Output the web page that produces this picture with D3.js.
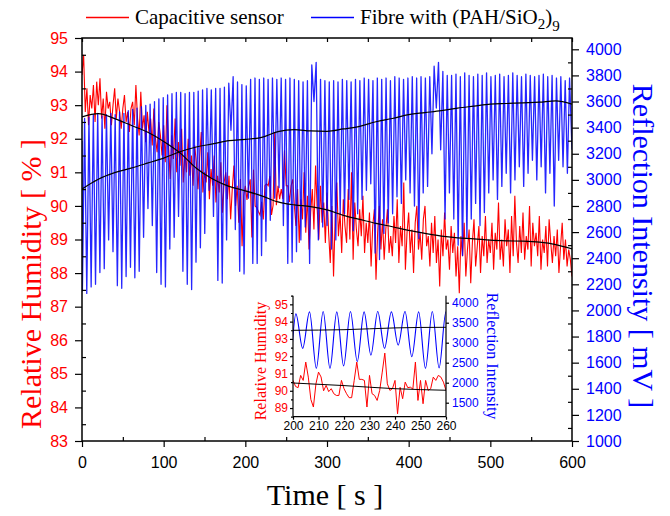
<!DOCTYPE html>
<html><head><meta charset="utf-8">
<script src="https://cdn.jsdelivr.net/npm/d3@7"></script>
<style>
body{margin:0;background:#fff}
.serif{font-family:"Liberation Serif","Times New Roman",Times,"DejaVu Serif",serif}
.sans{font-family:"Liberation Sans",Arial,Helvetica,sans-serif}
</style>
</head><body><svg id="c" width="670" height="516" xmlns="http://www.w3.org/2000/svg"></svg>
<script>
// ---------- DATA ----------
// Capacitive sensor (RH %), sampled every 2 s from 0 to 600 s
const redStep = 2;
const redValues = [
93.9,94.5,92.8,93.5,92.4,93.3,92.9,93.6,92.5,93.7,
93.0,93.8,92.6,93.2,92.3,93.4,92.9,93.1,92.4,93.0,
93.5,92.6,93.2,92.8,92.3,92.9,93.3,92.5,92.8,92.2,
92.9,93.1,92.4,93.6,92.6,92.1,93.4,92.3,92.7,91.9,
92.8,92.2,92.6,91.8,92.9,92.0,91.6,92.5,92.1,91.5,
92.4,91.3,93.0,91.8,90.8,92.1,91.4,92.6,91.0,91.9,
91.2,92.3,90.7,91.6,91.0,92.0,90.9,91.5,90.6,91.8,
91.3,90.5,91.4,92.2,90.4,91.0,90.7,91.6,90.2,91.1,
90.6,91.5,90.1,90.9,90.4,91.3,89.8,90.7,91.0,90.2,
90.9,89.6,90.5,91.2,90.0,90.6,89.5,90.8,88.8,90.3,
90.60,90.18,90.60,90.79,89.06,91.08,90.00,89.95,89.83,89.73,
90.12,89.60,90.60,90.66,90.60,90.89,89.73,90.02,92.18,90.02,
90.60,90.20,90.50,90.21,91.66,90.60,90.60,90.12,90.60,90.79,
90.02,89.4,90.5,88.9,90.2,89.6,91.0,89.2,90.3,88.7,
89.8,90.5,89.3,91.2,89.9,89.0,90.6,89.5,90.1,88.9,
90.4,89.2,88.3,90.0,87.9,89.6,90.7,89.1,89.8,88.6,
90.2,89.4,88.9,90.5,89.0,91.0,88.4,90.1,89.3,88.8,
89.9,89.1,90.3,88.6,89.5,88.9,89.8,88.2,89.4,89.9,
87.8,89.2,90.0,88.7,89.6,88.4,89.3,89.9,88.6,89.1,
88.5,89.7,88.9,90.2,88.3,89.4,88.8,90.7,88.1,89.2,
89.8,88.6,89.3,88.0,89.5,90.0,88.7,89.2,88.4,89.6,
90.0,88.8,89.1,88.2,89.5,88.6,89.7,88.3,89.0,87.6,
89.3,88.5,89.8,88.7,89.0,88.1,89.4,88.6,89.2,87.9,
88.8,87.4,89.1,88.5,89.5,87.9,88.7,89.3,87.7,88.9,
89.6,88.2,88.8,89.4,88.0,89.1,88.5,89.7,88.3,89.0,
88.6,89.5,88.1,89.2,88.7,90.1,88.4,89.0,88.2,89.6,
88.8,89.3,88.0,89.7,88.5,90.3,88.9,88.3,89.4,88.6,
89.8,88.4,89.1,88.7,90.0,88.2,89.5,88.8,89.2,88.5,
89.7,88.1,89.0,88.6,89.4,88.2,89.6,88.9,88.3,89.1,
88.5,89.3,88.0,88.8,89.5,88.4,89.0,88.2,88.7,88.4,
87.9];

// Fibre (PAH/SiO2)9 reflection intensity (mV): one trough and one peak per cycle
const blueFirstTrough = 0.5, bluePeriod = 5.35;
const blueStart = 3300, blueEnd = 3230;
const blueTroughs = [
2150,
2130,2180,2200,2290,2320,2540,2450,2190,2170,2260,2330,
2250,2300,2560,2780,2650,2290,2200,2180,2470,2560,2720,2300,2200,
2160,2370,2480,2590,2920,2720,2230,2210,2540,3380,2620,2300,2280,
2860,2360,2360,2420,2530,2690,2860,2940,2650,2360,2370,
2450,2540,2640,2360,3600,2540,2640,2650,
2470,2540,2740,2740,2850,2610,2740,2850,2920,2970,2440,2390,2590,2670,2740,2870,2820,3000,2900,2800,2550,2900,2950,3200,3550,3230,2700,
2900,2700,2500,2420,2560,2700,2820,2650,2750,2900,3000,2850,2950,3050,2900,3000,3100,2950,3050,3150,3000,3100,2900,3050,2800,3150,3100,
3050];
const bluePeaks = [
3470,
3480,3500,3510,3490,3500,3510,3500,3520,3510,3530,3540,
3550,3560,3570,3580,3600,3620,3630,3650,3660,3670,3670,3660,3670,
3670,3680,3690,3700,3690,3700,3700,3710,3740,3790,3750,3730,3720,
3770,3780,3770,3780,3770,3780,3770,3780,3770,3780,3770,
3760,3750,3760,3880,3900,3770,3760,3750,
3760,3750,3770,3760,3750,3770,3760,3780,3770,3760,3780,3770,3780,3760,3790,3780,3770,3780,3790,3780,3790,3780,3790,3870,3900,3830,3800,
3800,3810,3790,3820,3800,3790,3810,3800,3820,3790,3800,3810,3790,3800,3820,3800,3790,3810,3800,3790,3800,3810,3790,3800,3780,3790,3760,
3780];

// Smoothed (black) curves, every 20 s
const smoothStep = 20;
const redSmooth = [92.65,92.75,92.6,92.4,92.2,91.92,91.58,91.12,90.8,90.58,90.45,90.3,90.12,90.03,89.98,89.88,89.72,89.6,89.48,89.38,89.27,89.18,89.1,89.05,89.02,88.98,88.96,88.95,88.92,88.85,88.72];
const blueSmooth = [2930,3005,3055,3090,3128,3167,3215,3252,3275,3300,3310,3325,3370,3385,3375,3372,3390,3410,3445,3470,3500,3515,3530,3550,3565,3580,3585,3590,3595,3605,3580];

// Inset: capacitive sensor 200–260 s at 1 s
const insetStart = 200;
const insetRed = [
90.60,90.25,90.18,90.89,90.60,91.66,90.79,89.50,89.06,90.40,
91.08,90.80,90.00,90.31,89.95,90.12,89.83,89.73,89.73,90.60,
90.12,89.83,89.60,89.60,90.60,91.66,90.66,90.66,90.60,89.06,
90.89,89.83,89.73,89.44,90.02,91.08,92.18,90.40,90.02,90.12,
90.60,88.67,90.20,89.54,90.50,90.18,90.21,90.10,91.66,89.44,
90.60,89.25,90.60,90.02,90.12,90.79,90.60,90.89,90.79,90.50,
90.02];

// Ticks
const xTicks = [0,100,200,300,400,500,600];
const xMinor = [50,150,250,350,450,550];
const leftTicks = [83,84,85,86,87,88,89,90,91,92,93,94,95];
const rightTicks = [1000,1200,1400,1600,1800,2000,2200,2400,2600,2800,3000,3200,3400,3600,3800,4000];
const insetXTicks = [200,210,220,230,240,250,260];
const insetLeftTicks = [89,90,91,92,93,94,95];
const insetRightTicks = [1500,2000,2500,3000,3500,4000];

// ---------- BUILD ----------
const redData = redValues.map((v,i)=>({t:i*redStep, v}));
const blueData = [{t:0, v:blueStart}];
blueTroughs.forEach((v,i)=>{
  const t0 = blueFirstTrough + i*bluePeriod;
  blueData.push({t:t0, v});
  blueData.push({t:t0 + bluePeriod/2, v:bluePeaks[i]});
});
blueData.push({t:600, v:blueEnd});
const redSm = redSmooth.map((v,i)=>({t:i*smoothStep, v}));
const blueSm = blueSmooth.map((v,i)=>({t:i*smoothStep, v}));
const insetRedData = insetRed.map((v,i)=>({t:insetStart+i, v}));

const RED = "#ff0000", BLUE = "#0000ff";

const svg = d3.select('#c');
const defs = svg.append('defs');

// Main scales
const L=82,R=572,T=38,B=441;
const x = d3.scaleLinear().domain([0,600]).range([L,R]);
const yL = d3.scaleLinear().domain([83,95]).range([B,T]);
const yR = d3.scaleLinear().domain([1000,4000]).range([B,49.3]);

defs.append('clipPath').attr('id','mc').append('rect').attr('x',L).attr('y',T).attr('width',R-L).attr('height',B-T);

const plot = svg.append('g').attr('clip-path','url(#mc)');
plot.append('path').datum(redData).attr('fill','none').attr('stroke',RED).attr('stroke-width',1.1)
  .attr('d', d3.line().x(d=>x(d.t)).y(d=>yL(d.v)));
plot.append('path').datum(blueData).attr('fill','none').attr('stroke',BLUE).attr('stroke-width',1.3).attr('stroke-opacity',0.85)
  .attr('stroke-linejoin','round')
  .attr('d', d3.line().x(d=>x(d.t)).y(d=>yR(d.v)));
plot.append('path').datum(redSm).attr('fill','none').attr('stroke','#000').attr('stroke-width',1.2)
  .attr('d', d3.line().curve(d3.curveMonotoneX).x(d=>x(d.t)).y(d=>yL(d.v)));
plot.append('path').datum(blueSm).attr('fill','none').attr('stroke','#000').attr('stroke-width',1.2)
  .attr('d', d3.line().curve(d3.curveMonotoneX).x(d=>x(d.t)).y(d=>yR(d.v)));

// Frame
svg.append('rect').attr('x',L).attr('y',T).attr('width',R-L).attr('height',B-T)
  .attr('fill','none').attr('stroke','#000').attr('stroke-width',1.5);

function styleAxis(g, color, size){
  g.select('.domain').remove();
  g.selectAll('line').attr('stroke','#000').attr('stroke-width',1.2);
  g.attr('font-family',null).attr('font-size',null);
  g.selectAll('text').attr('fill',color).attr('class','sans').style('font-size',size+'px');
}
// Left
svg.append('g').attr('transform',`translate(${L},0)`)
  .call(d3.axisLeft(yL).tickValues(leftTicks).tickSize(7).tickPadding(7).tickFormat(d3.format('d')))
  .call(g=>styleAxis(g,RED,16));
svg.append('g').attr('transform',`translate(${L},0)`)
  .call(d3.axisRight(yL).tickValues(d3.range(83.5,95,1)).tickSize(4).tickFormat(''))
  .call(g=>styleAxis(g,RED,16));
// Right
svg.append('g').attr('transform',`translate(${R},0)`)
  .call(d3.axisRight(yR).tickValues(rightTicks).tickSize(7).tickPadding(7).tickFormat(d3.format('d')))
  .call(g=>styleAxis(g,BLUE,16));
svg.append('g').attr('transform',`translate(${R},0)`)
  .call(d3.axisLeft(yR).tickValues(d3.range(1100,4000,200)).tickSize(4).tickFormat(''))
  .call(g=>styleAxis(g,BLUE,16));
// Bottom
svg.append('g').attr('transform',`translate(0,${B})`)
  .call(d3.axisBottom(x).tickValues(xTicks).tickSize(6).tickPadding(10).tickFormat(d3.format('d')))
  .call(g=>styleAxis(g,'#000',16));
svg.append('g').attr('transform',`translate(0,${B})`)
  .call(d3.axisTop(x).tickValues(xMinor).tickSize(4).tickFormat(''))
  .call(g=>styleAxis(g,'#000',16));
// Top
svg.append('g').attr('transform',`translate(0,${T})`)
  .call(d3.axisBottom(x).tickValues(xTicks.concat(xMinor)).tickSize(4).tickFormat(''))
  .call(g=>styleAxis(g,'#000',16));

// Axis titles
svg.append('text').attr('class','serif').attr('x',325).attr('y',505).attr('text-anchor','middle')
  .style('font-size','30px').attr('fill','#000').text('Time [ s ]');
svg.append('text').attr('class','serif').attr('transform','translate(41,284) rotate(-90)').attr('text-anchor','middle')
  .style('font-size','30px').attr('fill',RED).text('Relative Humidity [ % ]');
svg.append('text').attr('class','serif').attr('transform','translate(633,246) rotate(90)').attr('text-anchor','middle')
  .style('font-size','30px').attr('fill',BLUE).text('Reflection Intensity [ mV ]');

// Legend
const lg = svg.append('g');
lg.append('path').attr('d','M86,17.5H129').attr('stroke','#ff0000').attr('stroke-width',1.4).attr('fill','none');
lg.append('text').attr('class','serif').attr('x',135).attr('y',24).style('font-size','21px').attr('fill','#000').text('Capacitive sensor');
lg.append('path').attr('d','M311,17.5H354').attr('stroke','#0000ff').attr('stroke-width',1.4).attr('fill','none');
const ft = lg.append('text').attr('class','serif').attr('x',360).attr('y',24).style('font-size','21px').attr('fill','#000');
ft.append('tspan').text('Fibre with (PAH/SiO');
ft.append('tspan').attr('dy',5).style('font-size','15px').text('2');
ft.append('tspan').attr('dy',-5).text(')');
ft.append('tspan').attr('dy',7).style('font-size','15px').text('9');

// ---------- INSET ----------
const iL=293, iR=446, iT=295.7, iB=416.7;
const xi = d3.scaleLinear().domain([200,260]).range([iL,iR]);
const yLi = d3.scaleLinear().domain([88.5,95.5]).range([iB,iT]);
const yRi = d3.scaleLinear().domain([1500,4000]).range([402.7,302.7]);
svg.append('rect').attr('x',iL).attr('y',iT).attr('width',iR-iL).attr('height',iB-iT).attr('fill','#fff');
defs.append('clipPath').attr('id','ic').append('rect').attr('x',iL).attr('y',iT).attr('width',iR-iL).attr('height',iB-iT);
const ip = svg.append('g').attr('clip-path','url(#ic)');
ip.append('path').datum(blueData.filter(d=>d.t>=190&&d.t<=270)).attr('fill','none').attr('stroke',BLUE).attr('stroke-width',1.1)
  .attr('d', d3.line().curve(d3.curveMonotoneX).x(d=>xi(d.t)).y(d=>yRi(d.v)));
ip.append('path').datum(insetRedData).attr('fill','none').attr('stroke',RED).attr('stroke-width',1)
  .attr('d', d3.line().x(d=>xi(d.t)).y(d=>yLi(d.v)));
ip.append('path').datum(redSm.filter(d=>d.t>=180&&d.t<=280)).attr('fill','none').attr('stroke','#000').attr('stroke-width',1)
  .attr('d', d3.line().curve(d3.curveMonotoneX).x(d=>xi(d.t)).y(d=>yLi(d.v)));
ip.append('path').datum(blueSm.filter(d=>d.t>=180&&d.t<=280)).attr('fill','none').attr('stroke','#000').attr('stroke-width',1)
  .attr('d', d3.line().curve(d3.curveMonotoneX).x(d=>xi(d.t)).y(d=>yRi(d.v)));

// inset axis lines
const al = svg.append('g').attr('stroke','#000').attr('stroke-width',1.2);
al.append('line').attr('x1',iL).attr('x2',iL).attr('y1',iT).attr('y2',iB);
al.append('line').attr('x1',iR).attr('x2',iR).attr('y1',iT).attr('y2',iB);
al.append('line').attr('x1',iL).attr('x2',iR).attr('y1',iB).attr('y2',iB);

svg.append('g').attr('transform',`translate(${iL},0)`)
  .call(d3.axisLeft(yLi).tickValues(insetLeftTicks).tickSize(3).tickPadding(2).tickFormat(d3.format('d')))
  .call(g=>styleAxis(g,RED,12));
svg.append('g').attr('transform',`translate(${iL},0)`)
  .call(d3.axisLeft(yLi).tickValues(d3.range(88.5,95.6,1)).tickSize(2).tickFormat(''))
  .call(g=>styleAxis(g,RED,12));
svg.append('g').attr('transform',`translate(${iR},0)`)
  .call(d3.axisRight(yRi).tickValues(insetRightTicks).tickSize(3).tickPadding(3).tickFormat(d3.format('d')))
  .call(g=>styleAxis(g,BLUE,12));
svg.append('g').attr('transform',`translate(0,${iB})`)
  .call(d3.axisBottom(xi).tickValues(insetXTicks).tickSize(3).tickPadding(2).tickFormat(d3.format('d')))
  .call(g=>styleAxis(g,'#000',12));

svg.append('text').attr('class','serif').attr('transform','translate(266,361) rotate(-90)').attr('text-anchor','middle')
  .style('font-size','16px').attr('fill',RED).text('Relative Humidity');
svg.append('text').attr('class','serif').attr('transform','translate(487,356) rotate(90)').attr('text-anchor','middle')
  .style('font-size','16px').attr('fill',BLUE).text('Reflection Intensity');
</script>
</body></html>
